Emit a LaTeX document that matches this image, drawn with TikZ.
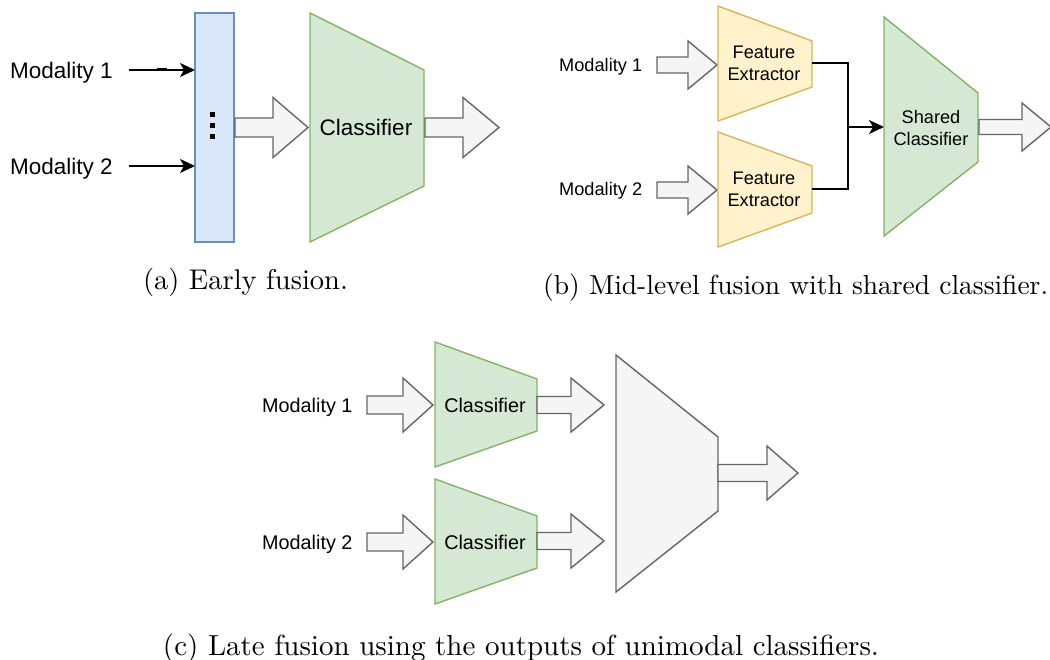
\documentclass[tikz,border=0pt]{standalone}
\usepackage{fontspec}
\newfontfamily\labelfont{Liberation Sans}
\newfontfamily\capfont{lmroman10-regular}[Extension=.otf]
\usetikzlibrary{arrows.meta}

\definecolor{blueFill}{HTML}{DAE8FC}
\definecolor{blueLine}{HTML}{6C8EBF}
\definecolor{greenFill}{HTML}{D5E8D4}
\definecolor{greenLine}{HTML}{82B366}
\definecolor{yellowFill}{HTML}{FFF2CC}
\definecolor{yellowLine}{HTML}{D6B656}
\definecolor{grayFill}{HTML}{F5F5F5}
\definecolor{grayLine}{HTML}{666666}

\tikzset{
  bigarrow/.style={draw=grayLine, fill=grayFill, line width=1.4pt, line join=miter},
  greenblock/.style={draw=greenLine, fill=greenFill, line width=1.4pt},
  yellowblock/.style={draw=yellowLine, fill=yellowFill, line width=1.4pt},
  grayblock/.style={draw=grayLine, fill=grayFill, line width=1.4pt},
  vecbar/.style={draw=blueLine, fill=blueFill, line width=1.4pt},
  thinarrow/.style={line width=1.4pt, -{Stealth[length=15pt,width=14pt,inset=4pt]}},
  wire/.style={line width=1.4pt},
  biglabel/.style={inner sep=0pt, font=\labelfont\fontsize{22.5}{26}\selectfont},
  smalllabel/.style={inner sep=0pt, font=\labelfont\fontsize{18.2}{22}\selectfont},
  medlabel/.style={inner sep=0pt, font=\labelfont\fontsize{19.8}{23}\selectfont},
  caption/.style={inner sep=0pt, font=\capfont\fontsize{#1}{32}\selectfont},
  caption/.default=28.5,
}

% block arrow: #1 x start, #2 y axis, #3 x where the head begins, #4 x tip,
% #5 half shaft width, #6 half head width
\newcommand\blockarrow[6]{%
  \draw[bigarrow] (#1,#2-#5) -- (#3,#2-#5) -- (#3,#2-#6) -- (#4,#2)
    -- (#3,#2+#6) -- (#3,#2+#5) -- (#1,#2+#5) -- cycle;}

% trapezoid: #1 style, #2 left x, #3 left top, #4 left bottom,
% #5 right x, #6 right top, #7 right bottom
\newcommand\trapblock[7]{%
  \draw[#1] (#2,#3) -- (#5,#6) -- (#5,#7) -- (#2,#4) -- cycle;}

\begin{document}
\begin{tikzpicture}[x=1pt, y=-1pt]
\useasboundingbox (0,0) rectangle (1050,660);

% ---------- (a) early fusion ----------
\draw[vecbar] (195,13) rectangle (234,242);
\foreach \yy in {115,126,137}
  \fill (209.5,\yy-2.5) rectangle ++(5,5);
\node[biglabel, anchor=base west] (am1) at (10,79) {Modality 1};
\node[biglabel, anchor=base west] (am2) at (10,175) {Modality 2};
\coordinate (am1s) at (129,70);  \coordinate (am1e) at (195,70);
\coordinate (am2s) at (129,166); \coordinate (am2e) at (195,166);
\draw[thinarrow] (am1s) -- (am1e);
\draw[line width=3pt] (157,70) -- (167,70);
\draw[thinarrow] (am2s) -- (am2e);
\blockarrow{235}{127.5}{273}{308}{9.5}{30}
\trapblock{greenblock}{310}{13}{242}{424}{70}{186}
\node[biglabel, anchor=base] (acls) at (366,136) {Classifier};
\blockarrow{425}{127.5}{463}{499}{9.5}{30}
\node[caption, anchor=base] (capa) at (245.5,290) {(a) Early fusion.};

% ---------- (b) mid-level fusion ----------
\node[smalllabel, anchor=base west] (bm1) at (559,72) {Modality 1};
\node[smalllabel, anchor=base west] (bm2) at (559,196) {Modality 2};
\blockarrow{657}{65}{688}{717}{8}{24}
\blockarrow{657}{190}{688}{717}{8}{24}
\trapblock{yellowblock}{718}{6}{121}{812}{41}{87}
\trapblock{yellowblock}{718}{132}{247}{812}{166}{213}
\node[smalllabel, align=center] (fe1) at (764,63.5) {Feature\\Extractor};
\node[smalllabel, align=center] (fe2) at (764,189.5) {Feature\\Extractor};
\coordinate (fe1out) at (812,63);
\coordinate (fe2out) at (812,189);
\coordinate (join) at (848,127);
\coordinate (scin) at (884,127);
\draw[wire] (fe1out) -| (join);
\draw[wire] (fe2out) -| (join);
\draw[thinarrow] (join) -- (scin);
\trapblock{greenblock}{884}{17}{236}{978}{93}{162}
\node[smalllabel, align=center] (sc) at (931,127.5) {Shared\\Classifier};
\blockarrow{979}{127}{1022}{1051}{7.5}{24}
\node[caption=27.5, anchor=base west] (capb) at (543,295) {(b) Mid-level fusion with shared classifier.};

% ---------- (c) late fusion ----------
\node[medlabel, anchor=base west] (cm1) at (262,413) {Modality 1};
\node[medlabel, anchor=base west] (cm2) at (262,549) {Modality 2};
\blockarrow{367}{405}{403}{433}{9}{27}
\blockarrow{367}{542}{403}{433}{9}{27}
\trapblock{greenblock}{435}{342}{467}{537}{379}{431}
\trapblock{greenblock}{435}{479}{604}{537}{516}{568}
\node[medlabel, anchor=base] (ccls1) at (485,412) {Classifier};
\node[medlabel, anchor=base] (ccls2) at (485,549) {Classifier};
\blockarrow{537}{405}{571}{604}{8.5}{27}
\blockarrow{537}{541}{571}{604}{8.5}{27}
\trapblock{grayblock}{616}{355}{592}{718}{437}{511}
\blockarrow{718}{473}{767}{798}{8.5}{27}
\node[caption=29, anchor=base] (capc) at (521,655) {(c) Late fusion using the outputs of unimodal classifiers.};
\end{tikzpicture}
\end{document}
